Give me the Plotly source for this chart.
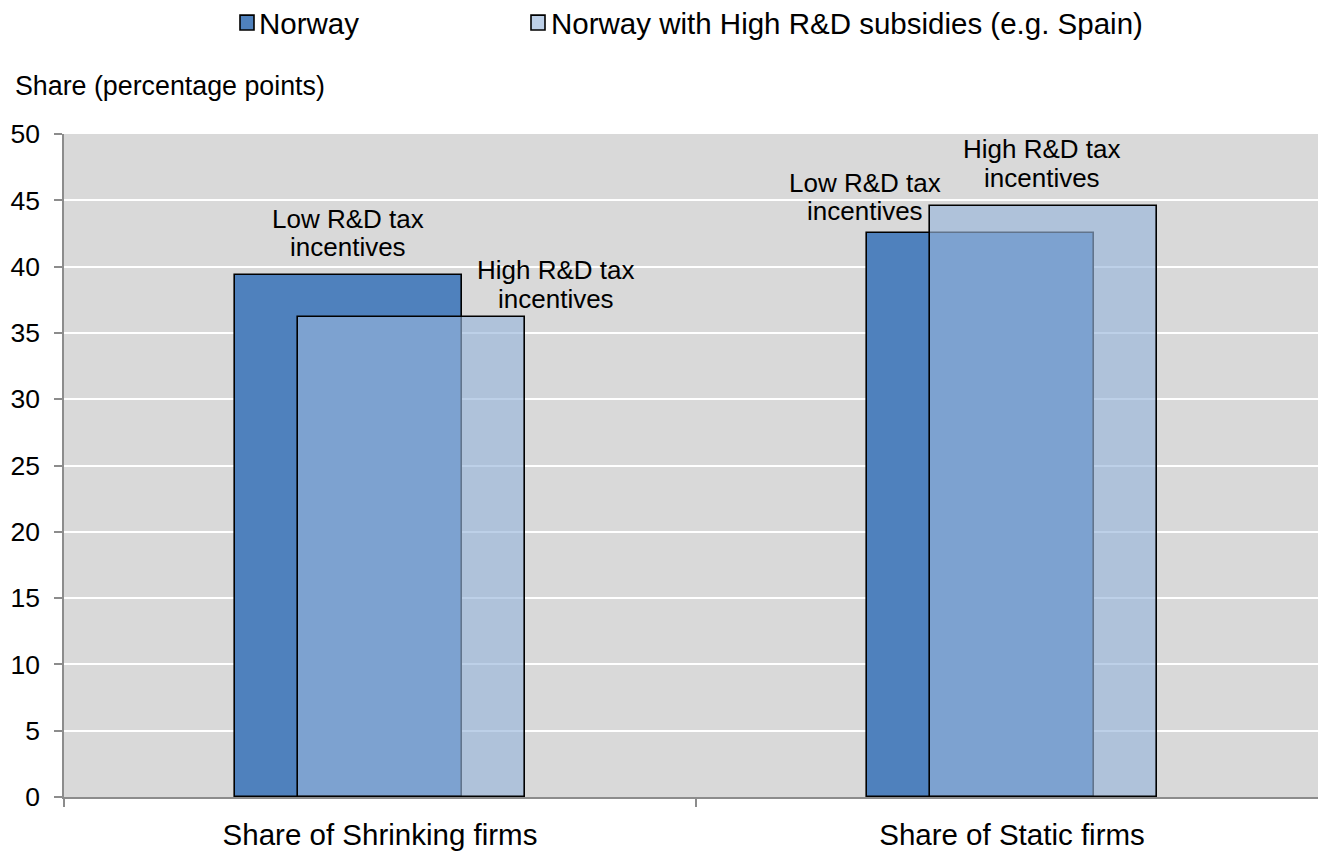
import plotly.graph_objects as go

# Chart data
categories = ["Share of Shrinking firms", "Share of Static firms"]
series_names = ["Norway", "Norway with High R&D subsidies (e.g. Spain)"]
norway = [39.4, 42.5]
norway_high_subsidies = [36.2, 44.6]
bar_labels = ["Low R&D tax|incentives", "High R&D tax|incentives"]
y_ticks = [0, 5, 10, 15, 20, 25, 30, 35, 40, 45, 50]

W, H = 1318, 851
ML, MR, MT, MB = 64, 0, 134, 48
PW, PH = W - ML - MR, H - MT - MB
CAT_PX = 632  # pixel width of one category slot
x_range = [-0.5, -0.5 + PW / CAT_PX]

DARK = "rgb(79,129,189)"
LIGHT = "rgba(151,181,219,0.64)"
FONT = "Liberation Sans, Arial, sans-serif"

BAR_W = 227 / CAT_PX
SHIFT = 0.0506
xs = list(range(len(categories)))

fig = go.Figure()
fig.add_trace(go.Bar(
    x=xs, y=norway, name=series_names[0],
    width=BAR_W, offset=-SHIFT - BAR_W / 2,
    marker=dict(color=DARK, line=dict(color="black", width=1.6)),
    showlegend=False,
))
fig.add_trace(go.Bar(
    x=xs, y=norway_high_subsidies, name=series_names[1],
    width=BAR_W, offset=SHIFT - BAR_W / 2,
    marker=dict(color=LIGHT, line=dict(color="black", width=1.6)),
    showlegend=False,
))

# Label placement per bar: (series, category, dx px, dy line1, dy line2)
label_spots = [
    (0, 0, 0, 56, 28),
    (1, 0, 144, 47, 18),
    (0, 1, -115, 50, 22),
    (1, 1, -2, 57, 28),
]
series_vals = [norway, norway_high_subsidies]
series_shift = [-SHIFT, SHIFT]
annotations = []
for s, c, dx, dy1, dy2 in label_spots:
    lines = bar_labels[s].split("|")
    for txt, dy in zip(lines, (dy1, dy2)):
        annotations.append(dict(
            x=c + series_shift[s], y=series_vals[s][c], xref="x", yref="y",
            text=txt, showarrow=False, xanchor="center", yanchor="middle",
            xshift=dx, yshift=dy, font=dict(family=FONT, size=26, color="black"),
        ))

def px_x(px):
    return (px - ML) / PW

def px_y(py):
    return (H - MB - py) / PH

# Legend drawn as swatches and text above the plot
legend_items = [(240, 260, DARK), (531, 552, LIGHT)]
shapes = []
for (sx, tx, col), name in zip(legend_items, series_names):
    shapes.append(dict(
        type="rect", xref="paper", yref="paper",
        x0=px_x(sx), x1=px_x(sx + 14), y0=px_y(29), y1=px_y(14),
        fillcolor=col, line=dict(color="black", width=1.6),
    ))
    annotations.append(dict(
        x=px_x(tx - 3), y=px_y(22), xref="paper", yref="paper",
        text=name, showarrow=False, xanchor="left", yanchor="middle",
        font=dict(family=FONT, size=29.5, color="black"),
    ))

annotations.append(dict(
    x=px_x(13), y=px_y(86), xref="paper", yref="paper",
    text="Share (percentage points)", showarrow=False,
    xanchor="left", yanchor="middle",
    font=dict(family=FONT, size=26.8, color="black"),
))

fig.update_layout(
    width=W, height=H,
    margin=dict(l=ML, r=MR, t=MT, b=MB, pad=0),
    paper_bgcolor="white", plot_bgcolor="#d9d9d9",
    barmode="overlay", bargap=0,
    annotations=annotations, shapes=shapes,
    font=dict(family=FONT, color="black"),
)
fig.update_xaxes(
    range=x_range, tickmode="array", tickvals=xs, ticktext=categories,
    ticks="", showgrid=False, zeroline=False,
    showline=True, linecolor="#8c8c8c", linewidth=1.5,
    tickfont=dict(family=FONT, size=29.5, color="black"),
    ticklabelstandoff=11,
    minor=dict(tickmode="array", tickvals=[-0.5, 0.5, 1.5], ticks="outside",
               ticklen=8, tickwidth=1.5, tickcolor="#8c8c8c", showgrid=False),
)
fig.update_yaxes(
    range=[0, 50], tickmode="array", tickvals=y_ticks,
    ticks="outside", ticklen=8, tickwidth=1.5, tickcolor="#8c8c8c",
    showgrid=True, gridcolor="white", gridwidth=2, zeroline=False,
    showline=True, linecolor="#8c8c8c", linewidth=1.5,
    tickfont=dict(family=FONT, size=26.5, color="black"),
    ticklabelstandoff=9,
)

fig.write_html("out.html")
